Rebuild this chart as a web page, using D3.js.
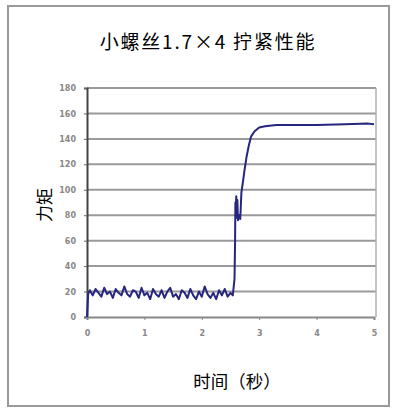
<!DOCTYPE html>
<html>
<head>
<meta charset="utf-8">
<script src="https://d3js.org/d3.v7.min.js"></script>
<style>
  body { margin: 0; background: #fff; }
  text { font-family: "Noto Sans CJK SC", "Noto Sans", sans-serif; }
</style>
</head>
<body>
<script>
// time (s) and torque readings
var noiseT = [0, 0.02, 0.05, 0.1, 0.15, 0.2, 0.25, 0.3, 0.35, 0.4, 0.45, 0.5, 0.55, 0.6, 0.65, 0.7, 0.75,
  0.8, 0.85, 0.9, 0.95, 1.0, 1.05, 1.1, 1.15, 1.2, 1.25, 1.3, 1.35, 1.4, 1.45, 1.5, 1.55, 1.6,
  1.65, 1.7, 1.75, 1.8, 1.85, 1.9, 1.95, 2.0, 2.05, 2.1, 2.15, 2.2, 2.25, 2.3, 2.35, 2.4, 2.45, 2.5];
var noiseV = [0, 18, 21, 17, 22, 19, 16, 23, 18, 20, 15, 22, 19, 17, 24, 18, 16,
  21, 20, 15, 23, 17, 19, 14, 22, 18, 16, 21, 15, 20, 23, 16, 18, 14,
  21, 19, 15, 22, 17, 14, 20, 16, 24, 18, 15, 19, 14, 21, 17, 22, 16, 19];
var riseT = [2.54, 2.57, 2.58, 2.585, 2.59, 2.6, 2.61, 2.62, 2.63, 2.65, 2.67, 2.69, 2.71, 2.74,
  2.78, 2.82, 2.86, 2.92, 3.0, 3.1, 3.3, 3.6, 4.0, 4.5, 4.9, 5.0];
var riseV = [17, 30, 60, 90, 80, 95, 78, 92, 76, 80, 77, 98, 104, 114,
  126, 135, 142, 146, 149, 150, 151, 151, 151, 151.5, 152, 151.5];
var xTicks = [0, 1, 2, 3, 4, 5];
var yTicks = [0, 20, 40, 60, 80, 100, 120, 140, 160, 180];

var data = noiseT.map(function (t, i) { return [t, noiseV[i]]; })
  .concat(riseT.map(function (t, i) { return [t, riseV[i]]; }));

var svg = d3.select("body").append("svg")
  .attr("width", 393).attr("height", 409);

// outer frame
svg.append("rect")
  .attr("x", 8).attr("y", 6).attr("width", 381).attr("height", 400)
  .attr("fill", "none").attr("stroke", "#999").attr("stroke-width", 2);

var x = d3.scaleLinear().domain([0, 5]).range([87, 374]);
var y = d3.scaleLinear().domain([0, 180]).range([317, 88]);

// grid
svg.append("g").selectAll("line")
  .data(yTicks.slice(1))
  .enter().append("line")
    .attr("x1", x(0)).attr("x2", 376)
    .attr("y1", function (d) { return y(d); })
    .attr("y2", function (d) { return y(d); })
    .attr("stroke", "#9a9a9a").attr("stroke-width", 2);

svg.append("line")
  .attr("x1", 376).attr("x2", 376).attr("y1", y(180)).attr("y2", y(0))
  .attr("stroke", "#b0b0b0").attr("stroke-width", 1.5);

// axes
var yAxis = svg.append("g")
  .attr("transform", "translate(" + x(0) + ",0)")
  .call(d3.axisLeft(y).tickValues(yTicks).tickSize(3).tickPadding(8));
yAxis.select(".domain").attr("stroke", "#444").attr("stroke-width", 2);
yAxis.selectAll(".tick line").attr("stroke", "#666");

var xAxis = svg.append("g")
  .attr("transform", "translate(0," + y(0) + ")")
  .call(d3.axisBottom(x).tickValues(xTicks).tickFormat(d3.format("d")).tickSize(3).tickPadding(10));
xAxis.select(".domain").attr("stroke", "#888").attr("stroke-width", 2);
xAxis.selectAll(".tick line").attr("stroke", "#888");

svg.selectAll(".tick text")
  .style("font-family", "'DejaVu Sans'")
  .style("font-size", "8px")
  .style("font-weight", "bold")
  .attr("fill", "#888");

// curve
svg.append("path")
  .datum(data)
  .attr("fill", "none")
  .attr("stroke", "#262680")
  .attr("stroke-width", 2)
  .attr("stroke-linejoin", "round")
  .attr("d", d3.line()
    .x(function (d) { return x(d[0]); })
    .y(function (d) { return y(d[1]); }));

// titles
svg.append("text")
  .attr("x", 208).attr("y", 49)
  .attr("text-anchor", "middle")
  .style("font-size", "19px")
  .style("letter-spacing", "1.8px")
  .text("小螺丝1.7×4 拧紧性能");

svg.append("text")
  .attr("transform", "translate(51,205) rotate(-90)")
  .attr("text-anchor", "middle")
  .style("font-size", "17px")
  .text("力矩");

svg.append("text")
  .attr("x", 237).attr("y", 388)
  .attr("text-anchor", "middle")
  .style("font-size", "17.5px")
  .text("时间（秒）");
</script>
</body>
</html>
